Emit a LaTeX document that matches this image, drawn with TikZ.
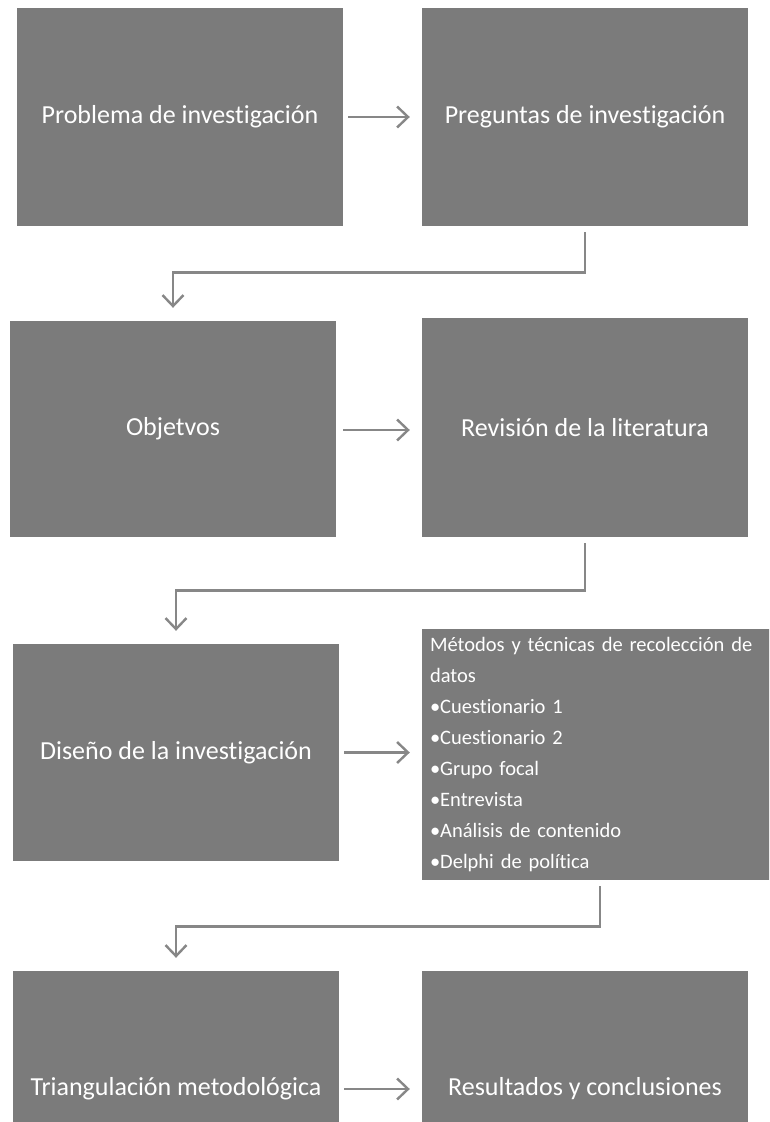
\documentclass[tikz,border=0pt]{standalone}
\usepackage{fontspec}
\setmainfont{Carlito}[Ligatures=NoCommon]
\usetikzlibrary{arrows.meta}
\definecolor{boxgray}{RGB}{123,123,123}
\definecolor{arrowgray}{RGB}{135,135,135}

\begin{document}
\begin{tikzpicture}[x=1pt,y=1pt,yscale=-1,xscale=1,
  stagebox/.style={draw=none,fill=boxgray,text=white,font=\fontsize{26}{30}\selectfont,
    minimum width=326pt,inner sep=0pt},
  flowarrow/.style={draw=arrowgray,line width=2.8pt,
    -{Straight Barb[length=11pt,width=21pt,line width=2.4pt]}},
  elbowarrow/.style={draw=arrowgray,line width=2.8pt,
    -{Straight Barb[length=11pt,width=21pt,line width=2.4pt]},shorten <=6pt,shorten >=13pt}]
%set diagram size 769 x 1122, page cut at the bottom
\useasboundingbox (0,0) rectangle (769,1122);
\clip (0,0) rectangle (769,1122);

%Shape: Rectangle [problema]
\node [stagebox,minimum height=218pt] (problema) at (180,117) {Problema de investigación};
%Shape: Rectangle [preguntas]
\node [stagebox,minimum height=218pt] (preguntas) at (585,117) {Preguntas de investigación};
%Shape: Rectangle [objetivos]
\node [stagebox,minimum height=216pt] (objetivos) at (173,429) {Objetvos};
%Shape: Rectangle [revision]
\node [stagebox,minimum height=219pt] (revision) at (585,427.5) {Revisión de la literatura};
%Shape: Rectangle [diseno]
\node [stagebox,minimum height=217pt] (diseno) at (176,752.5) {Diseño de la investigación};
%Shape: Rectangle [metodos]
\node [stagebox,minimum width=356pt,minimum height=251pt,text width=340pt,inner xsep=8pt,
  align=left,font=\fontsize{20.5}{31}\selectfont] (metodos) at (600,754.5)
  {Métodos y técnicas de recolección de\\ datos\\
   \textbullet Cuestionario 1\\
   \textbullet Cuestionario 2\\
   \textbullet Grupo focal\\
   \textbullet Entrevista\\
   \textbullet Análisis de contenido\\
   \textbullet Delphi de política};
%Shape: Rectangle [triangulacion]
\node [stagebox,minimum height=236pt] (triangulacion) at (176,1089) {Triangulación metodológica};
%Shape: Rectangle [resultados]
\node [stagebox,minimum height=236pt] (resultados) at (585,1089) {Resultados y conclusiones};

%Straight Lines [row arrows]
\draw [flowarrow,shorten <=5pt,shorten >=12pt] (problema) -- (preguntas);
\draw [flowarrow,shorten <=7pt,shorten >=12pt] (objetivos.east |- 0,430) -- (revision.west |- 0,430);
\draw [flowarrow,shorten <=5pt,shorten >=12pt] (diseno) -- (metodos.west |- diseno);
\draw [flowarrow,shorten <=5pt,shorten >=12pt] (triangulacion) -- (resultados);

%Elbow Lines [down to next row]
\draw [elbowarrow] (preguntas.south) -- ++(0,46) -| (objetivos.north);
\draw [elbowarrow] (revision.south) -- ++(0,53) -| (diseno.north);
\draw [elbowarrow] (metodos.south) -- ++(0,46) -| (triangulacion.north);

\end{tikzpicture}
\end{document}
